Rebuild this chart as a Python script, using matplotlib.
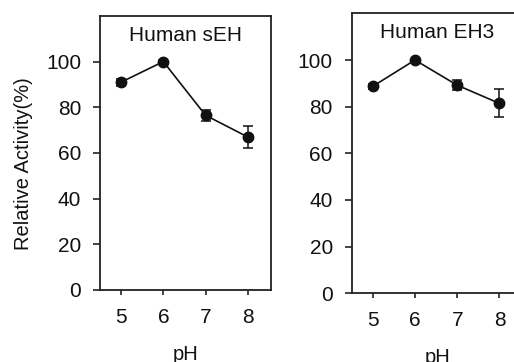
import matplotlib.pyplot as plt

plt.rcParams['font.family'] = ['Liberation Sans', 'DejaVu Sans']

ph = [5, 6, 7, 8]

seh_activity = [91.0, 100.0, 76.5, 67.0]
seh_err = [1.5, 0.5, 2.5, 4.7]

eh3_activity = [88.7, 100.0, 89.2, 81.4]
eh3_err = [1.2, 0.5, 2.2, 6.0]

y_ticks = [0, 20, 40, 60, 80, 100]

fig = plt.figure(figsize=(5.14, 3.62), dpi=100)
ax1 = fig.add_axes([0.1946, 0.199, 0.3325, 0.757])
ax2 = fig.add_axes([0.684, 0.19, 0.333, 0.773])


def panel(ax, vals, errs, title, show_ylabel):
    ax.errorbar(ph, vals, yerr=errs, color='#111111', marker='o', markersize=7.5,
                linewidth=1.2, elinewidth=1.1, capsize=3.5, capthick=1.1)
    ax.set_xlim(4.5, 8.55)
    ax.set_ylim(0, 120)
    ax.set_xticks(ph)
    ax.set_yticks(y_ticks)
    ax.tick_params(axis='both', labelsize=15, width=1.1,
                   color='#111111', labelcolor='#111111')
    ax.tick_params(axis='y', length=5, pad=8.5)
    ax.tick_params(axis='x', length=3.5, pad=9.5)
    for s in ax.spines.values():
        s.set_linewidth(1.3)
        s.set_color('#222222')
    ax.text(0.5, 0.93, title, transform=ax.transAxes, ha='center', va='center',
            fontsize=15, color='#111111')
    ax.set_xlabel('pH', fontsize=14.5, labelpad=13, color='#111111')
    if show_ylabel:
        ax.set_ylabel('Relative Activity(%)', fontsize=14.5, color='#111111')
        ax.yaxis.set_label_coords(-0.39, 0.462)


panel(ax1, seh_activity, seh_err, 'Human sEH', True)
panel(ax2, eh3_activity, eh3_err, 'Human EH3', False)

fig.savefig('out.png', dpi=100)
